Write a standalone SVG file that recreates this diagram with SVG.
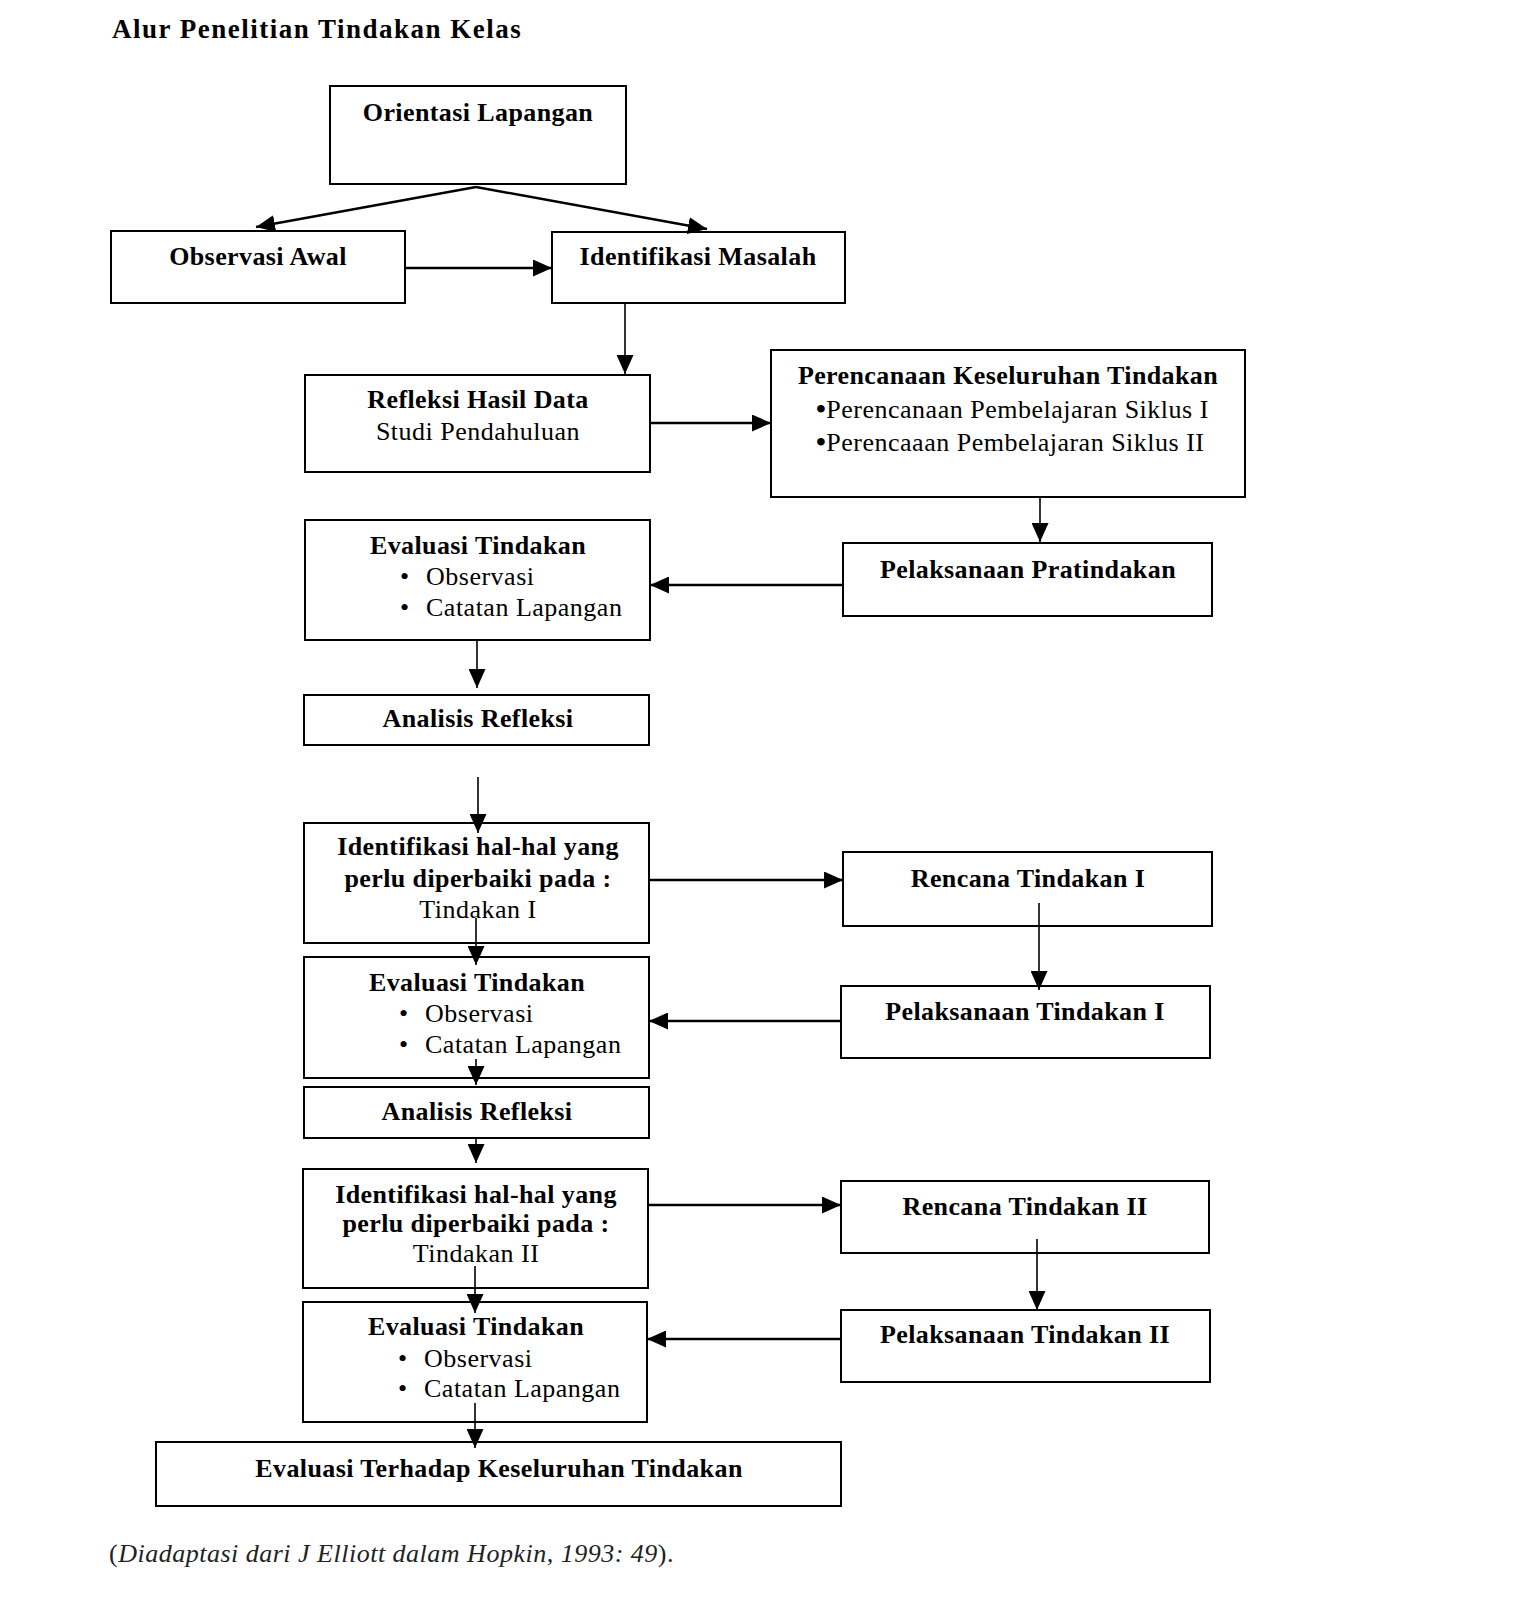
<svg xmlns="http://www.w3.org/2000/svg" width="1537" height="1600" viewBox="0 0 1537 1600">
<style>
.box{fill:#fff;stroke:#000;stroke-width:2}
.b{font-family:"Liberation Serif","Times New Roman",serif;font-weight:bold;font-size:26px;letter-spacing:0.4px;fill:#000}
.r{font-family:"Liberation Serif","Times New Roman",serif;font-size:26px;letter-spacing:0.5px;fill:#000}
.c{text-anchor:middle}
.bl{font-weight:bold;font-size:28px}
.cap{font-family:"Liberation Serif","Times New Roman",serif;font-style:italic;font-size:26px;letter-spacing:0.5px;fill:#222}
.h{stroke:#000;stroke-width:2.4;fill:none}
.v{stroke:#000;stroke-width:1.6;fill:none}
</style>
<defs>
<marker id="ah" markerUnits="userSpaceOnUse" markerWidth="19" markerHeight="17" refX="19" refY="8.5" orient="auto">
<path d="M0,0 L19,8.5 L0,17 z" fill="#000"/>
</marker>
</defs>
<rect width="1537" height="1600" fill="#fff"/>
<text x="112" y="38" class="b" style="font-size:27px;letter-spacing:1.5px">Alur Penelitian Tindakan Kelas</text>

<g id="n-orientasi"><rect class="box" x="330" y="86" width="296" height="98"/><text x="478" y="121" class="b c">Orientasi Lapangan</text></g>
<g id="n-observasi"><rect class="box" x="111" y="231" width="294" height="72"/><text x="258" y="265" class="b c">Observasi Awal</text></g>
<g id="n-identifikasi"><rect class="box" x="552" y="232" width="293" height="71"/><text x="698" y="265" class="b c">Identifikasi Masalah</text></g>
<g id="n-refleksi"><rect class="box" x="305" y="375" width="345" height="97"/><text x="478" y="408" class="b c">Refleksi Hasil Data</text><text x="478" y="440" class="r c">Studi Pendahuluan</text></g>
<g id="n-perencanaan"><rect class="box" x="771" y="350" width="474" height="147"/><text x="1008" y="384" class="b c">Perencanaan Keseluruhan Tindakan</text><text x="816" y="418" class="r"><tspan class="bl">•</tspan>Perencanaan Pembelajaran Siklus I</text><text x="816" y="451" class="r"><tspan class="bl">•</tspan>Perencaaan Pembelajaran Siklus II</text></g>
<g id="n-eval1"><rect class="box" x="305" y="520" width="345" height="120"/><text x="478" y="554" class="b c">Evaluasi Tindakan</text><text x="400" y="585" class="r">•</text><text x="426" y="585" class="r">Observasi</text><text x="400" y="616" class="r">•</text><text x="426" y="616" class="r">Catatan Lapangan</text></g>
<g id="n-pratindakan"><rect class="box" x="843" y="543" width="369" height="73"/><text x="1028" y="578" class="b c">Pelaksanaan Pratindakan</text></g>
<g id="n-analisis1"><rect class="box" x="304" y="695" width="345" height="50"/><text x="478" y="727" class="b c">Analisis Refleksi</text></g>
<g id="n-ident1"><rect class="box" x="304" y="823" width="345" height="120"/><text x="478" y="855" class="b c">Identifikasi hal-hal yang</text><text x="478" y="887" class="b c">perlu diperbaiki pada :</text><text x="478" y="918" class="r c">Tindakan I</text></g>
<g id="n-rencana1"><rect class="box" x="843" y="852" width="369" height="74"/><text x="1028" y="887" class="b c">Rencana Tindakan I</text></g>
<g id="n-eval2"><rect class="box" x="304" y="957" width="345" height="121"/><text x="477" y="991" class="b c">Evaluasi Tindakan</text><text x="399" y="1022" class="r">•</text><text x="425" y="1022" class="r">Observasi</text><text x="399" y="1053" class="r">•</text><text x="425" y="1053" class="r">Catatan Lapangan</text></g>
<g id="n-pelaksanaan1"><rect class="box" x="841" y="986" width="369" height="72"/><text x="1025" y="1020" class="b c">Pelaksanaan Tindakan I</text></g>
<g id="n-analisis2"><rect class="box" x="304" y="1087" width="345" height="51"/><text x="477" y="1120" class="b c">Analisis Refleksi</text></g>
<g id="n-ident2"><rect class="box" x="303" y="1169" width="345" height="119"/><text x="476" y="1203" class="b c">Identifikasi hal-hal yang</text><text x="476" y="1232" class="b c">perlu diperbaiki pada :</text><text x="476" y="1262" class="r c">Tindakan II</text></g>
<g id="n-rencana2"><rect class="box" x="841" y="1181" width="368" height="72"/><text x="1025" y="1215" class="b c">Rencana Tindakan II</text></g>
<g id="n-eval3"><rect class="box" x="303" y="1302" width="344" height="120"/><text x="476" y="1335" class="b c">Evaluasi Tindakan</text><text x="398" y="1367" class="r">•</text><text x="424" y="1367" class="r">Observasi</text><text x="398" y="1397" class="r">•</text><text x="424" y="1397" class="r">Catatan Lapangan</text></g>
<g id="n-pelaksanaan2"><rect class="box" x="841" y="1310" width="369" height="72"/><text x="1025" y="1343" class="b c">Pelaksanaan Tindakan II</text></g>
<g id="n-evalakhir"><rect class="box" x="156" y="1442" width="685" height="64"/><text x="499" y="1477" class="b c">Evaluasi Terhadap Keseluruhan Tindakan</text></g>

<g id="connectors">
<path class="h" d="M476,187 L256,227" marker-end="url(#ah)"/>
<path class="h" d="M476,187 L707,229" marker-end="url(#ah)"/>
<path class="h" d="M405,268 L552,268" marker-end="url(#ah)"/>
<path class="v" d="M625,303 L625,374" marker-end="url(#ah)"/>
<path class="h" d="M650,423 L771,423" marker-end="url(#ah)"/>
<path class="v" d="M1040,497 L1040,542" marker-end="url(#ah)"/>
<path class="h" d="M843,585 L650,585" marker-end="url(#ah)"/>
<path class="v" d="M477,640 L477,688" marker-end="url(#ah)"/>
<path class="v" d="M478,777 L478,833" marker-end="url(#ah)"/>
<path class="h" d="M649,880 L843,880" marker-end="url(#ah)"/>
<path class="v" d="M1039,903 L1039,990" marker-end="url(#ah)"/>
<path class="v" d="M476,918 L476,965" marker-end="url(#ah)"/>
<path class="h" d="M841,1021 L649,1021" marker-end="url(#ah)"/>
<path class="v" d="M476,1059 L476,1085" marker-end="url(#ah)"/>
<path class="v" d="M476,1139 L476,1163" marker-end="url(#ah)"/>
<path class="h" d="M648,1205 L841,1205" marker-end="url(#ah)"/>
<path class="v" d="M1037,1239 L1037,1310" marker-end="url(#ah)"/>
<path class="v" d="M475,1266 L475,1313" marker-end="url(#ah)"/>
<path class="h" d="M841,1339 L647,1339" marker-end="url(#ah)"/>
<path class="v" d="M475,1403 L475,1448" marker-end="url(#ah)"/>
</g>

<text x="109" y="1562" class="cap"><tspan style="font-style:normal">(</tspan>Diadaptasi dari J Elliott dalam Hopkin, 1993: 49<tspan style="font-style:normal">).</tspan></text>
</svg>
